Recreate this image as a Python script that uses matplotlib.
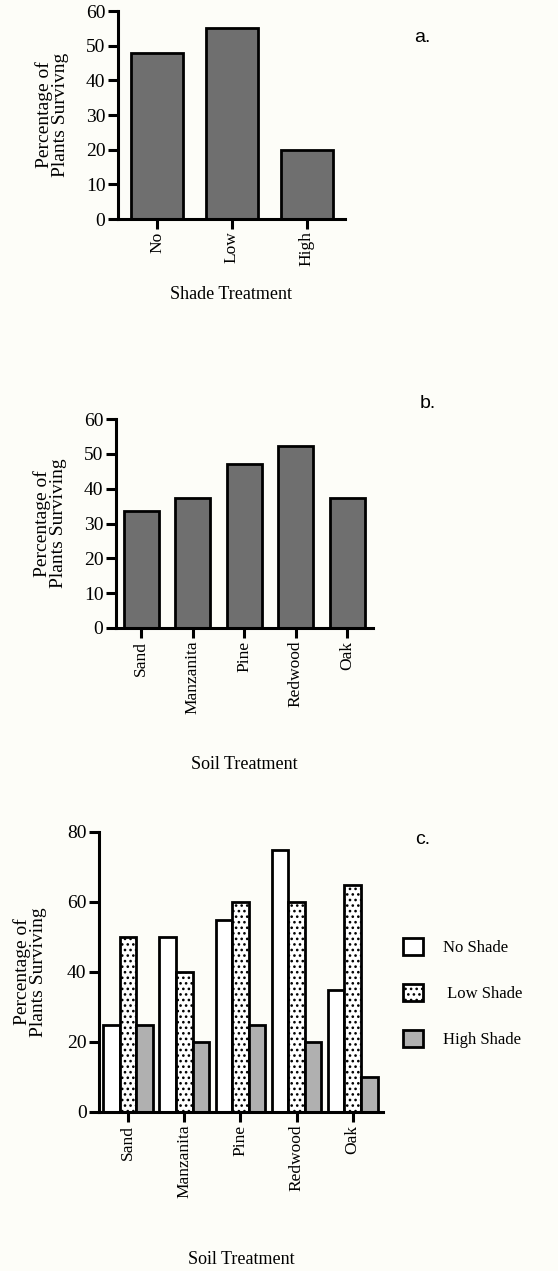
import numpy as np
import matplotlib
matplotlib.use("Agg")
import matplotlib.pyplot as plt

plt.rcParams["font.family"] = ["Liberation Serif", "DejaVu Serif"]
plt.rcParams["hatch.linewidth"] = 1.1

shade_levels = ["No", "Low", "High"]
shade_survival = [48, 55, 20]

soils = ["Sand", "Manzanita", "Pine", "Redwood", "Oak"]
soil_survival = [33.7, 37.2, 47.2, 52.2, 37.2]

no_shade = [25, 50, 55, 75, 35]
low_shade = [50, 40, 60, 60, 65]
high_shade = [25, 20, 25, 20, 10]

W, H = 558, 1271
bg = "#fdfdf8"
fig = plt.figure(figsize=(W / 100, H / 100), dpi=100, facecolor=bg)


def make_ax(left, right, top, bottom):
    ax = fig.add_axes([left / W, 1 - bottom / H, (right - left) / W, (bottom - top) / H])
    ax.set_facecolor("none")
    for s in ["top", "right"]:
        ax.spines[s].set_visible(False)
    for s in ["left", "bottom"]:
        ax.spines[s].set_linewidth(2.2)
    ax.tick_params(direction="out", length=7, width=2.2, pad=2)
    ax.tick_params(axis="y", labelsize=14)
    ax.tick_params(axis="x", labelrotation=90, labelsize=12.5)
    return ax


dark = "#6f6f6f"
light = "#b0b0b0"

# panel a
ax = make_ax(118, 345, 11, 219)
x = np.arange(len(shade_levels))
ax.bar(x, shade_survival, width=0.69, color=dark, edgecolor="black", linewidth=2)
ax.set_xlim(-0.52, 2.51)
ax.set_ylim(0, 60)
ax.set_yticks(range(0, 61, 10))
ax.set_xticks(x, shade_levels)
ax.set_xlabel("Shade Treatment", fontsize=13, labelpad=14)
ax.set_ylabel("Percentage of\nPlants Survivng", fontsize=14, labelpad=12, linespacing=0.95)
fig.text(422 / W, 1 - 37 / H, "a.", family="Liberation Sans", fontsize=14, ha="center", va="center")

# panel b
ax = make_ax(116, 373, 419, 628)
x = np.arange(len(soils))
ax.bar(x, soil_survival, width=0.68, color=dark, edgecolor="black", linewidth=2)
ax.set_xlim(-0.49, 4.5)
ax.set_ylim(0, 60)
ax.set_yticks(range(0, 61, 10))
ax.set_xticks(x, soils)
ax.set_xlabel("Soil Treatment", fontsize=13, labelpad=30)
ax.set_ylabel("Percentage of\nPlants Surviving", fontsize=14, labelpad=12, linespacing=0.95)
fig.text(428 / W, 1 - 403 / H, "b.", family="Liberation Sans", fontsize=14, ha="center", va="center")

# panel c
ax = make_ax(99, 383, 832, 1112)
x = np.arange(len(soils))
bw = 0.295
ax.bar(x - bw, no_shade, width=bw, color="white", edgecolor="black", linewidth=2, label="No Shade")
ax.bar(x, low_shade, width=bw, color="white", edgecolor="black", linewidth=2, hatch="...", label=" Low Shade")
ax.bar(x + bw, high_shade, width=bw, color=light, edgecolor="black", linewidth=2, label="High Shade")
ax.set_xlim(-0.52, 4.54)
ax.set_ylim(0, 80)
ax.set_yticks(range(0, 81, 20))
ax.set_xticks(x, soils)
ax.set_xlabel("Soil Treatment", fontsize=13, labelpad=38)
ax.set_ylabel("Percentage of\nPlants Surviving", fontsize=14, labelpad=14, linespacing=0.95)
fig.text(423 / W, 1 - 840 / H, "c.", family="Liberation Sans", fontsize=14, ha="center", va="center")
ax.legend(loc="center left", bbox_to_anchor=(395 / W, 1 - 993 / H), bbox_transform=fig.transFigure,
          frameon=False, fontsize=12, handlelength=1.2, handleheight=1.2, labelspacing=1.65,
          handletextpad=1.2, borderpad=0)

fig.savefig("out.png", dpi=100, facecolor=bg)
